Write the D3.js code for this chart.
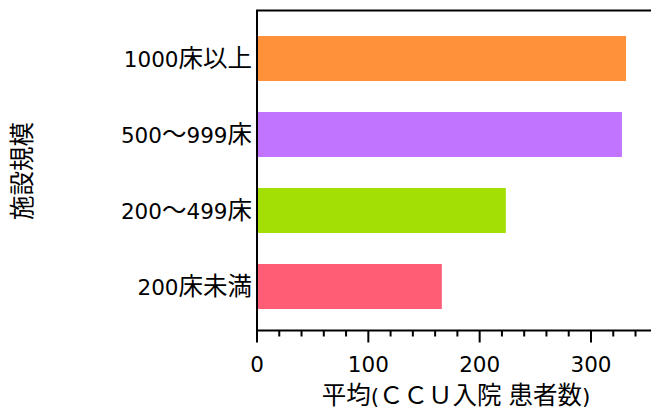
<!DOCTYPE html>
<html><head><meta charset="utf-8">
<script src="https://cdn.jsdelivr.net/npm/d3@7"></script>
<style>body{margin:0;background:#fff}svg{display:block}text{font-family:"Noto Sans CJK JP","DejaVu Sans",sans-serif;fill:#000}.lat{font-family:"DejaVu Sans",sans-serif}</style>
</head><body>
<svg id="c" width="651" height="416"></svg>
<script>
const categories = ["1000床以上", "500～999床", "200～499床", "200床未満"];
const values = [331.5, 327.8, 223.5, 166];
const colors = ["#FF913A", "#C174FF", "#A3DF05", "#FF5D76"];
const xTicks = [0, 100, 200, 300];
const xTitle = "平均(ＣＣＵ入院 患者数)";
const yTitle = "施設規模";

const svg = d3.select("#c");
const x0 = 257, xTop = 10.5, xAxisY = 330.5;
const fsC = 24.5, fsL = 21.5;
const x = d3.scaleLinear().domain([0, 360]).range([x0, x0 + 360 * 1.1133]);
const y = d3.scaleBand().domain(categories).range([20.5, 324.5]).paddingInner(0.408).paddingOuter(0.204);

function mixed(sel, str) {
  const runs = str.match(/[\x00-\x7f]+|[^\x00-\x7f]+/g) || [];
  sel.attr("font-size", fsC);
  runs.forEach(r => {
    const t = sel.append("tspan").text(r);
    if (/^[\x00-\x7f]+$/.test(r)) t.attr("class", "lat").attr("font-size", fsL);
  });
}

svg.append("g").selectAll("rect").data(categories).join("rect")
  .attr("x", x(0)).attr("y", d => y(d))
  .attr("width", (d, i) => x(values[i]) - x(0)).attr("height", y.bandwidth())
  .attr("fill", (d, i) => colors[i]);

// frame: top and left
svg.append("path").attr("d", `M${x0},${xAxisY}V${xTop}H651`).attr("fill", "none").attr("stroke", "#000").attr("stroke-width", 2);

// x axis
const gx = svg.append("g").attr("transform", `translate(0,${xAxisY})`);
gx.append("line").attr("x1", x0 - 1).attr("x2", 651).attr("stroke", "#000").attr("stroke-width", 2);
const minor = d3.range(0, 361, 20).filter(v => v % 100 !== 0);
gx.selectAll(".mn").data(minor).join("line").attr("class", "mn")
  .attr("x1", d => x(d)).attr("x2", d => x(d)).attr("y1", 0).attr("y2", 6)
  .attr("stroke", "#000").attr("stroke-width", 2);
gx.selectAll(".mj").data(xTicks).join("line").attr("class", "mj")
  .attr("x1", d => x(d)).attr("x2", d => x(d)).attr("y1", 0).attr("y2", 12)
  .attr("stroke", "#000").attr("stroke-width", 2);
gx.selectAll("text").data(xTicks).join("text").attr("class", "lat")
  .attr("x", d => x(d)).attr("y", 41.5).attr("text-anchor", "middle")
  .attr("font-size", fsL).text(d => d);

// y labels
svg.append("g").selectAll("text").data(categories).join("text")
  .attr("x", 252).attr("y", d => y(d) + y.bandwidth() / 2 + 8)
  .attr("text-anchor", "end").each(function(d){ mixed(d3.select(this), d); });

// titles
mixed(svg.append("text").attr("x", 456).attr("y", 404).attr("text-anchor", "middle"), xTitle);
svg.append("text").attr("transform", "translate(31,171) rotate(-90)").attr("text-anchor", "middle").attr("font-size", fsC).text(yTitle);
</script>
</body></html>
